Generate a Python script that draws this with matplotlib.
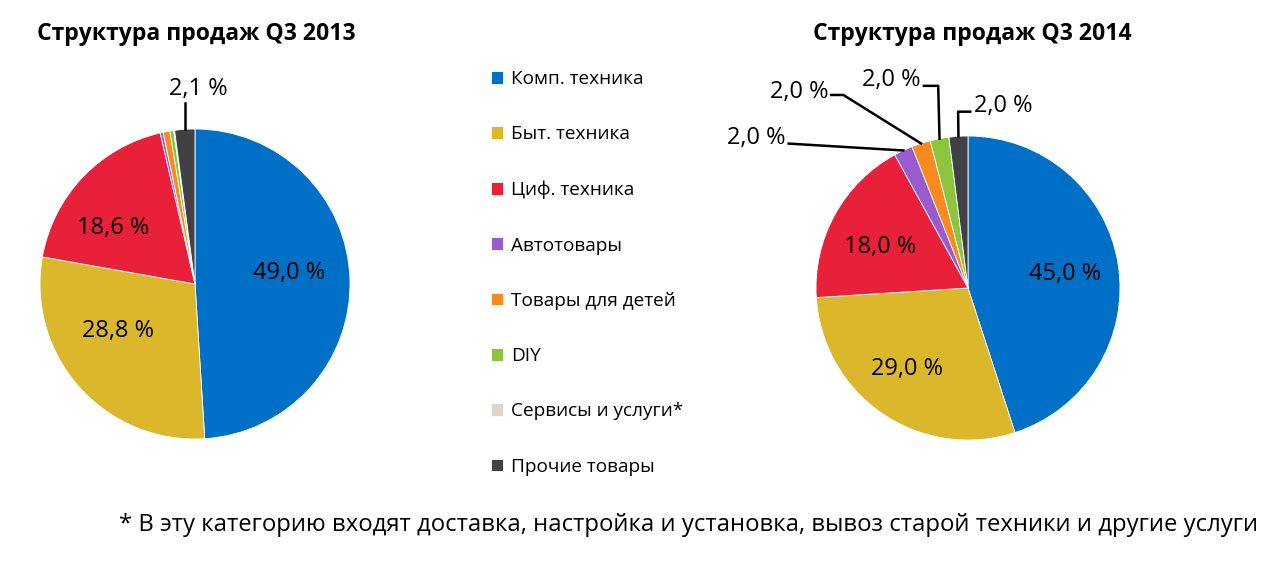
import matplotlib.pyplot as plt
import numpy as np

plt.rcParams['font.family'] = ['Open Sans', 'DejaVu Sans']

categories = ['Комп. техника', 'Быт. техника', 'Циф. техника', 'Автотовары',
              'Товары для детей', 'DIY', 'Сервисы и услуги*', 'Прочие товары']
colors = ['#0070C6', '#DBB72C', '#E8203A', '#9A5BCF', '#F88A1E', '#8CC63E', '#DDD6CA', '#404045']

share_2013 = [49.0, 28.8, 18.6, 0.3, 0.7, 0.4, 0.1, 2.1]
share_2014 = [45.0, 29.0, 18.0, 2.0, 2.0, 2.0, 0.0, 2.0]
labels_2013 = ['49,0 %', '28,8 %', '18,6 %', '', '', '', '', '2,1 %']
labels_2014 = ['45,0 %', '29,0 %', '18,0 %', '2,0 %', '2,0 %', '2,0 %', '', '2,0 %']

W, H = 1263, 561
fig = plt.figure(figsize=(12.63, 5.61), dpi=100)


def pie_axes(cx, cy, r):
    return fig.add_axes([(cx - r) / W, (H - cy - r) / H, 2 * r / W, 2 * r / H])


def edge(w):
    a = np.deg2rad((w.theta1 + w.theta2) / 2)
    return np.cos(a), np.sin(a)


fs_lab = 17
lw_lead = 1.8

# 2013
ax1 = pie_axes(195, 284, 155)
w1, _ = ax1.pie(share_2013, colors=colors, startangle=90, counterclock=False,
                wedgeprops=dict(edgecolor='white', linewidth=0.6))
ax1.set_xlim(-1, 1); ax1.set_ylim(-1, 1); ax1.set_aspect('equal')
inner1 = {0: (0.61, 0.07), 1: (-0.50, -0.30), 2: (-0.53, 0.36)}
for i, (x, y) in inner1.items():
    ax1.text(x, y, labels_2013[i], ha='center', va='center', fontsize=fs_lab)
ex, ey = edge(w1[7])
ax1.plot([ex, ex], [ey, 1.17], color='black', lw=lw_lead, clip_on=False)
ax1.text(0.02, 1.18, labels_2013[7], ha='center', va='bottom', fontsize=fs_lab)
fig.text(37 / W, 1 - 34 / H, 'Структура продаж Q3 2013', ha='left', va='center',
         fontsize=16.6, fontweight='bold')

# 2014
ax2 = pie_axes(968, 288, 152)
w2, _ = ax2.pie(share_2014, colors=colors, startangle=90, counterclock=False,
                wedgeprops=dict(edgecolor='white', linewidth=0.6))
ax2.set_xlim(-1, 1); ax2.set_ylim(-1, 1); ax2.set_aspect('equal')
inner2 = {0: (0.64, 0.09), 1: (-0.40, -0.53), 2: (-0.58, 0.27)}
for i, (x, y) in inner2.items():
    ax2.text(x, y, labels_2014[i], ha='center', va='center', fontsize=fs_lab)

# leader lines: (slice, path points after the wedge edge, text anchor, ha)
leaders = [
    (7, [(-0.065, 1.16), (0.015, 1.16)], (0.04, 1.20), 'left'),
    (5, [(-0.196, 1.33), (-0.29, 1.33)], (-0.31, 1.37), 'right'),
    (4, [(-0.82, 1.27), (-0.90, 1.27)], (-0.92, 1.29), 'right'),
    (3, [(-1.18, 0.95)], (-1.20, 0.99), 'right'),
]
for i, pts, (tx, ty), ha in leaders:
    ex, ey = edge(w2[i])
    xs = [ex] + [p[0] for p in pts]
    ys = [ey] + [p[1] for p in pts]
    ax2.plot(xs, ys, color='black', lw=lw_lead, clip_on=False)
    ax2.text(tx, ty, labels_2014[i], ha=ha, va='center', fontsize=fs_lab)
fig.text(972 / W, 1 - 34 / H, 'Структура продаж Q3 2014', ha='center', va='center',
         fontsize=16.6, fontweight='bold')

# legend
fig.legend(w1, categories, loc='upper left', bbox_to_anchor=(474 / W, 1 - 53 / H),
           frameon=False, fontsize=13.7, handlelength=0.65, handleheight=0.65,
           handletextpad=0.4, labelspacing=1.96)

fig.text(1258 / W, 1 - 525 / H,
         '* В эту категорию входят доставка, настройка и установка, вывоз старой техники и другие услуги',
         ha='right', va='center', fontsize=17.2)

fig.savefig('out.png', dpi=100)
